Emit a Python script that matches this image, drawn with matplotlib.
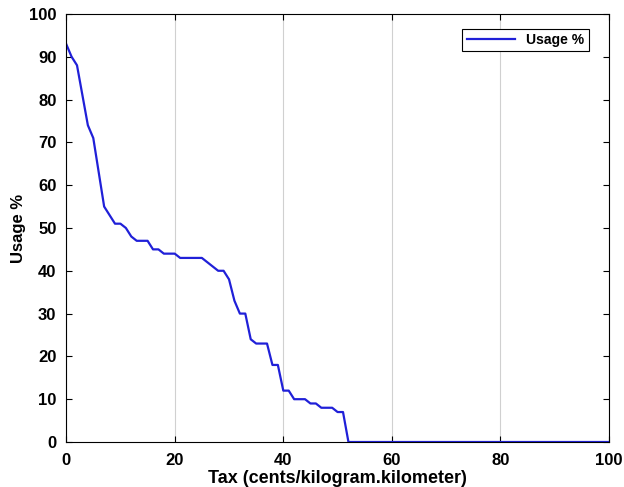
import matplotlib
matplotlib.use("Agg")
import matplotlib.pyplot as plt
import numpy as np

tax = list(range(0, 101))
usage_head = [93, 90, 88, 81, 74, 71, 63, 55, 53, 51, 51, 50, 48, 47, 47, 47,
              45, 45, 44, 44, 44, 43, 43, 43, 43, 43, 42, 41, 40, 40, 38, 33,
              30, 30, 24, 23, 23, 23, 18, 18, 12, 12, 10, 10, 10, 9, 9, 8, 8,
              8, 7, 7]
usage = usage_head + [0] * (len(tax) - len(usage_head))

plt.rcParams['font.family'] = ['Liberation Sans', 'DejaVu Sans']
plt.rcParams['font.weight'] = 'bold'

fig = plt.figure(figsize=(6.24, 4.87), dpi=100)
ax = fig.add_axes([0.106, 0.0924, 0.87, 0.879])
ax.plot(tax, usage, color='#2020d8', linewidth=1.6, label='Usage %')
ax.set_xlim(0, 100)
ax.set_ylim(0, 100)
ax.set_xticks([0, 20, 40, 60, 80, 100])
ax.set_yticks(range(0, 101, 10))
ax.grid(axis='x', color='#d0d0d0', linewidth=0.8)
ax.tick_params(direction='in', top=True, right=True, labelsize=12, length=4, width=0.8)
ax.tick_params(axis='x', pad=8)
ax.tick_params(axis='y', pad=7)
for lab in ax.get_xticklabels() + ax.get_yticklabels():
    lab.set_fontweight('bold')
ax.set_xlabel('Tax (cents/kilogram.kilometer)', fontsize=13, fontweight='bold', labelpad=1)
ax.set_ylabel('Usage %', fontsize=12, fontweight='bold', labelpad=2)
for s in ax.spines.values():
    s.set_linewidth(0.8)
leg = ax.legend(loc='upper right', bbox_to_anchor=(0.97, 0.975), fontsize=10,
                fancybox=False, edgecolor='black', framealpha=1,
                prop={'weight': 'bold', 'size': 10}, handlelength=3.5,
                borderpad=0.3, borderaxespad=0.3)
leg.get_frame().set_linewidth(0.8)
fig.savefig('out.png', dpi=100)
